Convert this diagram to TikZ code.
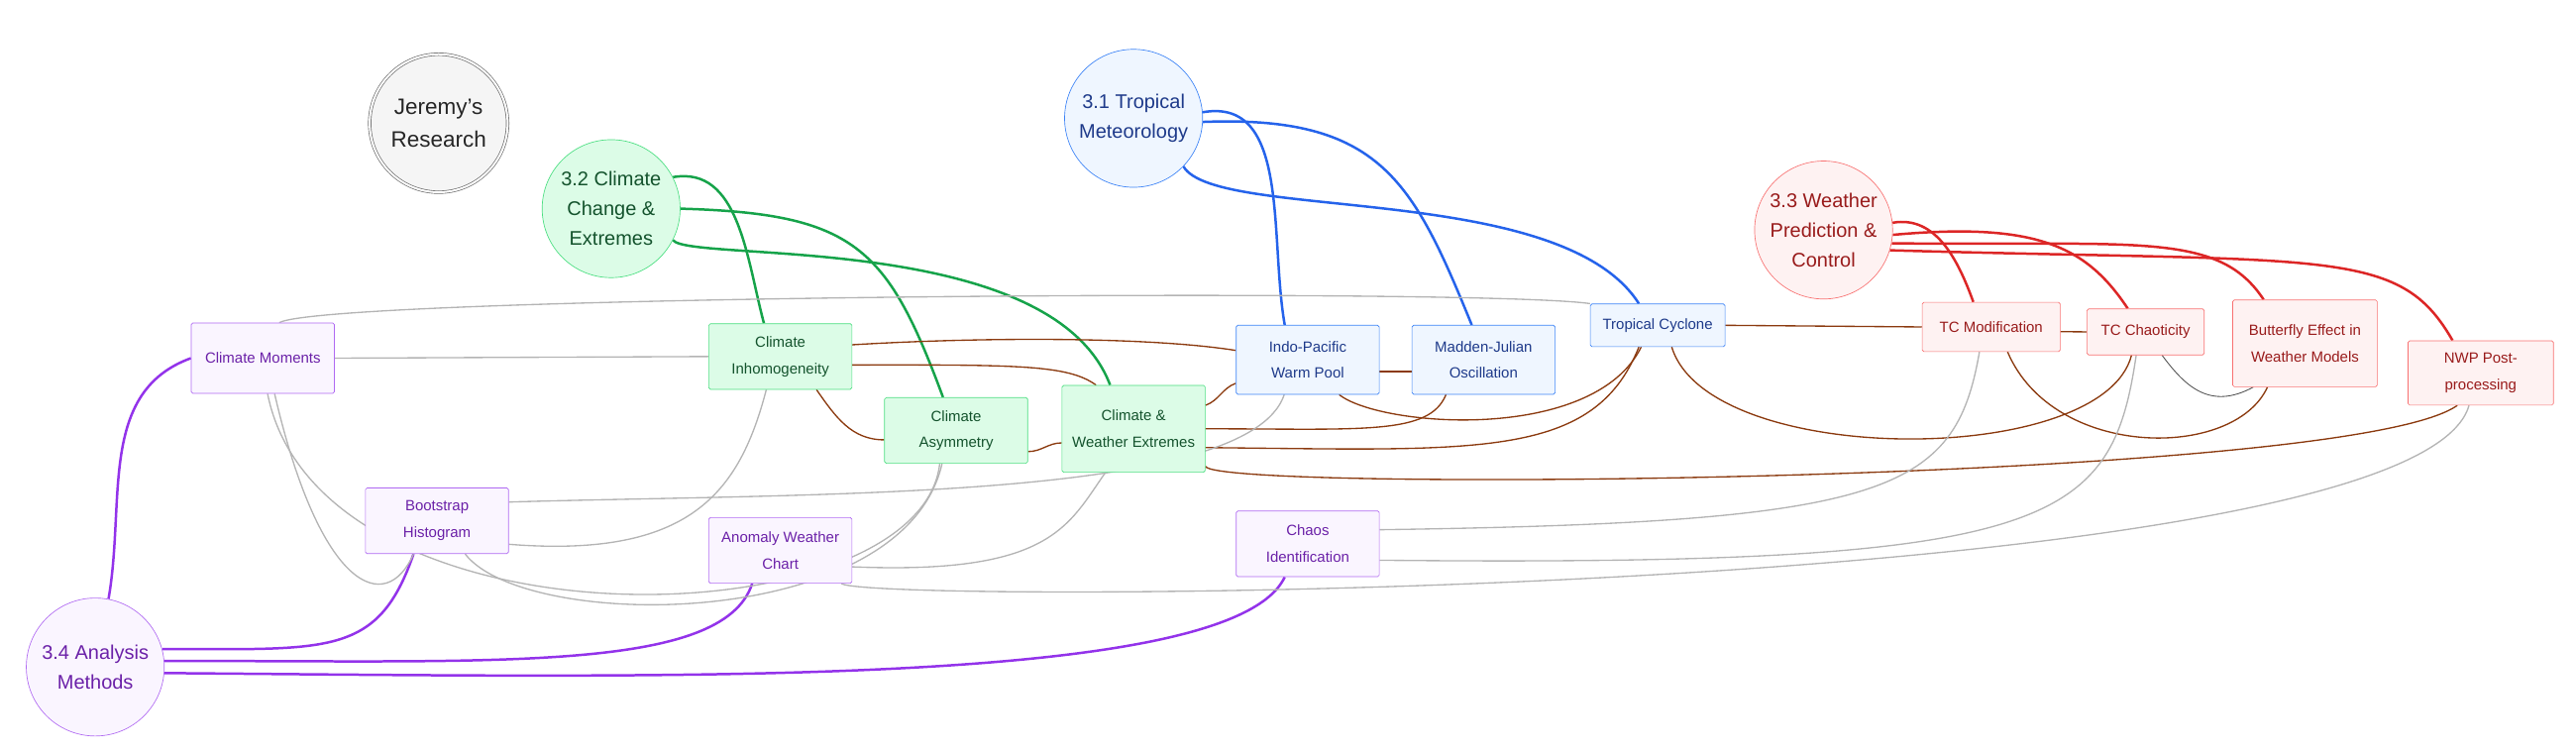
\documentclass[tikz,border=0pt]{standalone}
\usepackage{fontspec}
\setmainfont{Liberation Sans}
\usetikzlibrary{backgrounds}

\definecolor{pfill}{HTML}{FAF5FF}\definecolor{pline}{HTML}{9333EA}\definecolor{ptext}{HTML}{6B21A8}\definecolor{pdraw}{HTML}{B06AF2}
\definecolor{gfill}{HTML}{DCFCE7}\definecolor{gline}{HTML}{16A34A}\definecolor{gtext}{HTML}{14532D}\definecolor{gdraw}{HTML}{4ADE80}
\definecolor{bfill}{HTML}{EFF6FF}\definecolor{bline}{HTML}{2563EB}\definecolor{btext}{HTML}{1E3A8A}\definecolor{bdraw}{HTML}{3B82F6}
\definecolor{rfill}{HTML}{FEF2F2}\definecolor{rline}{HTML}{DC2626}\definecolor{rtext}{HTML}{991B1B}\definecolor{rdraw}{HTML}{F87171}
\definecolor{brown}{HTML}{8B3A0F}\definecolor{lgray}{HTML}{B4B4B4}

\tikzset{
  topic/.style={circle, minimum size=2.94cm, align=center, font=\fontsize{12}{18}\selectfont, inner sep=0pt},
  item/.style={rectangle, rounded corners=1pt, minimum width=3.05cm, minimum height=1.4cm, align=center, font=\fontsize{9}{16}\selectfont, inner sep=2pt},
  purple/.style={fill=pfill, draw=pdraw, text=ptext},
  green/.style={fill=gfill, draw=gdraw, text=gtext},
  blue/.style={fill=bfill, draw=bdraw, text=btext},
  red/.style={fill=rfill, draw=rdraw, text=rtext},
  main/.style={line width=1.5pt},
  link/.style={brown, line width=0.8pt},
  weak/.style={lgray, line width=0.8pt},
}

\begin{document}
\begin{tikzpicture}[x=0.035cm, y=-0.035cm]
\useasboundingbox (0,0) rectangle (1568,458);

% topics
\node [topic, fill=gray!8, draw=gray!80!black, double, double distance=1.2pt, font=\fontsize{13.5}{20}\selectfont, text=black!85] (jr) at (267,75) {Jeremy's\\Research};
\node [topic, green] (c32) at (372,127) {3.2 Climate\\Change \&\\Extremes};
\node [topic, blue] (c31) at (690,72) {3.1 Tropical\\Meteorology};
\node [topic, red] (c33) at (1110,140) {3.3 Weather\\Prediction \&\\Control};
\node [topic, purple] (c34) at (58,406) {3.4 Analysis\\Methods};

% items
\node [item, purple, minimum height=1.5cm] (cm) at (160,218) {Climate Moments};
\node [item, purple] (bh) at (266,317) {Bootstrap\\Histogram};
\node [item, purple] (awc) at (475,335) {Anomaly Weather\\Chart};
\node [item, purple] (chi) at (796,331) {Chaos\\Identification};
\node [item, green] (inh) at (475,217) {Climate\\Inhomogeneity};
\node [item, green] (asy) at (582,262) {Climate\\Asymmetry};
\node [item, green, minimum height=1.85cm] (cwe) at (690,261) {Climate \&\\Weather Extremes};
\node [item, blue, minimum height=1.47cm] (wp) at (796,219) {Indo-Pacific\\Warm Pool};
\node [item, blue, minimum height=1.47cm] (mjo) at (903,219) {Madden-Julian\\Oscillation};
\node [item, blue, minimum width=2.87cm, minimum height=0.91cm] (tc) at (1009,198) {Tropical Cyclone};
\node [item, red, minimum width=2.94cm, minimum height=1.05cm] (tcm) at (1212,199) {TC Modification};
\node [item, red, minimum width=2.5cm, minimum height=0.98cm] (tcc) at (1306,202) {TC Chaoticity};
\node [item, red, minimum width=3.08cm, minimum height=1.85cm] (bfly) at (1403,209) {Butterfly Effect in\\Weather Models};
\node [item, red, minimum width=3.1cm, minimum height=1.37cm] (nwp) at (1510,227) {NWP Post-\\processing};

\begin{scope}[on background layer]
% topic links
\draw [main, gline] (c32.27) to[out=10,in=105] ([xshift=-0.35cm]inh.north);
\draw [main, gline] (c32.0) .. controls (520,130) and (540,150) .. ([xshift=-0.28cm]asy.north);
\draw [main, gline] (c32.-27) .. controls (420,160) and (640,140) .. ([xshift=-0.5cm]cwe.north);
\draw [main, bline] (c31.5) to[out=10,in=100] ([xshift=-0.49cm]wp.north);
\draw [main, bline] (c31.-3) .. controls (840,70) and (860,110) .. ([xshift=-0.25cm]mjo.north);
\draw [main, bline] (c31.-44) .. controls (740,135) and (950,110) .. ([xshift=-0.4cm]tc.north);
\draw [main, rline] (c33.6) to[out=10,in=110] ([xshift=-0.38cm]tcm.north);
\draw [main, rline] (c33.-4) .. controls (1240,135) and (1270,150) .. ([xshift=-0.38cm]tcc.north);
\draw [main, rline] (c33.-11) .. controls (1300,150) and (1350,140) .. ([xshift=-0.88cm]bfly.north);
\draw [main, rline] (c33.-17) .. controls (1420,160) and (1460,150) .. ([xshift=-0.6cm]nwp.north);
\draw [main, pline] (c34.79) to[out=80,in=200] (cm.west);
\draw [main, pline] (c34.15) .. controls (200,395) and (230,400) .. ([xshift=-0.5cm]bh.south);
\draw [main, pline] (c34.5) .. controls (300,402) and (440,410) .. ([xshift=-0.6cm]awc.south);
\draw [main, pline] (c34.-5) .. controls (400,412) and (750,420) .. ([xshift=-0.49cm]chi.south);

% item links
\draw [link] ([yshift=0.25cm]inh.east) .. controls (600,205) and (700,205) .. ([yshift=0.2cm]wp.west);
\draw [link] ([yshift=-0.18cm]inh.east) .. controls (620,222) and (650,222) .. ([xshift=-0.8cm]cwe.north);
\draw [link] ([xshift=0.77cm]inh.south) to[out=-55,in=180] ([yshift=-0.2cm]asy.west);
\draw [link] ([yshift=-0.45cm]asy.east) to[out=0,in=180] ([yshift=-0.3cm]cwe.west);
\draw [link] ([yshift=0.5cm]cwe.east) to[out=20,in=200] ([yshift=-0.5cm]wp.west);
\draw [link] (cwe.east) .. controls (830,261) and (870,265) .. ([xshift=-0.8cm]mjo.south);
\draw [link] ([yshift=-0.4cm]cwe.east) .. controls (900,274) and (970,280) .. ([xshift=-0.4cm]tc.south);
\draw [link] ([yshift=-0.8cm]cwe.east) .. controls (740,300) and (1430,294) .. ([xshift=-0.5cm]nwp.south);
\draw [link] ([xshift=0.67cm]wp.south) .. controls (840,260) and (970,270) .. ([xshift=-0.35cm]tc.south);
\draw [link] ([yshift=-0.25cm]wp.east) -- ([yshift=-0.25cm]mjo.west);
\draw [link] (tc.east) -- (tcm.west);
\draw [link] ([yshift=-0.1cm]tcm.east) -- (tcc.west);
\draw [link] ([xshift=0.3cm]tc.south) .. controls (1040,285) and (1280,285) .. ([xshift=-0.3cm]tcc.south);
\draw [link] ([xshift=0.35cm]tcm.south) .. controls (1250,280) and (1360,280) .. ([xshift=-0.8cm]bfly.south);
\draw [black!70, line width=0.5pt] ([xshift=0.35cm]tcc.south) .. controls (1330,235) and (1345,250) .. ([xshift=-1.1cm]bfly.south);

% method links
\draw [weak] ([xshift=0.35cm]cm.north) .. controls (200,180) and (900,175) .. (tc.north west);
\draw [weak] (cm.east) -- (inh.west);
\draw [weak] ([xshift=0.25cm]cm.south) .. controls (195,360) and (235,375) .. ([xshift=-0.5cm]bh.south);
\draw [weak] ([xshift=0.1cm]cm.south) .. controls (195,400) and (560,390) .. ([xshift=-0.35cm]asy.south);
\draw [weak] ([xshift=0.6cm]bh.south) .. controls (320,385) and (550,385) .. ([xshift=-0.3cm]asy.south);
\draw [weak] ([yshift=0.4cm]bh.east) .. controls (500,300) and (760,305) .. ([xshift=-0.5cm]wp.south);
\draw [weak] ([yshift=-0.5cm]bh.east) .. controls (420,340) and (450,300) .. ([xshift=-0.3cm]inh.south);
\draw [weak] ([yshift=-0.35cm]awc.east) .. controls (640,350) and (650,320) .. ([xshift=-0.6cm]cwe.south);
\draw [weak] ([xshift=1.3cm]awc.south) .. controls (530,368) and (1470,365) .. ([xshift=-0.25cm]nwp.south);
\draw [weak] ([yshift=0.3cm]chi.east) .. controls (1150,318) and (1190,300) .. ([xshift=-0.25cm]tcm.south);
\draw [weak] ([yshift=-0.35cm]chi.east) .. controls (1250,345) and (1285,320) .. ([xshift=-0.2cm]tcc.south);
\end{scope}
\end{tikzpicture}
\end{document}
